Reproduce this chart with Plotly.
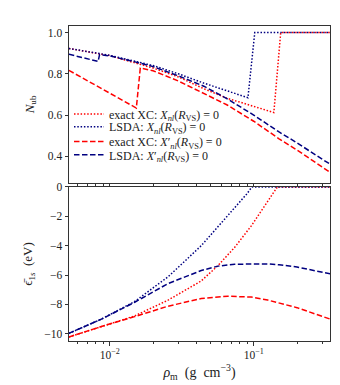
import plotly.graph_objects as go

# --- top panel: N_ub vs rho_m ---
rho_ex_x = [0.0052, 0.01, 0.02, 0.03, 0.045, 0.065, 0.09, 0.138, 0.154, 0.34]
nub_ex_x = [0.923, 0.888, 0.828, 0.785, 0.728, 0.682, 0.652, 0.612, 1.0, 1.0]

rho_lsda_x = [0.0052, 0.01, 0.02, 0.03, 0.045, 0.065, 0.0912, 0.1017, 0.34]
nub_lsda_x = [0.923, 0.89, 0.84, 0.80, 0.755, 0.718, 0.684, 1.0, 1.0]

rho_ex_xp = [0.0052, 0.01, 0.0153, 0.0163, 0.02, 0.03, 0.045, 0.065, 0.1, 0.15, 0.2, 0.3, 0.34]
nub_ex_xp = [0.817, 0.706, 0.634, 0.828, 0.815, 0.765, 0.703, 0.65, 0.57, 0.485, 0.43, 0.347, 0.322]

rho_lsda_xp = [0.0052, 0.0083, 0.0085, 0.01, 0.015, 0.02, 0.03, 0.045, 0.065, 0.1, 0.15, 0.2, 0.3, 0.34]
nub_lsda_xp = [0.895, 0.86, 0.893, 0.887, 0.858, 0.835, 0.79, 0.74, 0.68, 0.6, 0.518, 0.465, 0.385, 0.362]

# --- bottom panel: mean 1s energy (eV) ---
rho_e_ex_x = [0.0052, 0.00875, 0.0149, 0.0254, 0.0432, 0.0565, 0.0738, 0.0962, 0.1256, 0.146, 0.34]
eps_ex_x = [-10.22, -9.5, -8.78, -7.71, -6.4, -5.35, -4.11, -2.65, -0.97, 0.0, 0.0]

rho_e_lsda_x = [0.0052, 0.00875, 0.0149, 0.0254, 0.0432, 0.0596, 0.0738, 0.09, 0.097, 0.34]
eps_lsda_x = [-9.97, -9.0, -7.8, -6.12, -4.0, -2.43, -1.42, -0.45, 0.0, 0.0]

rho_e_ex_xp = [0.0052, 0.00875, 0.0149, 0.0254, 0.0432, 0.066, 0.0962, 0.125, 0.2, 0.34]
eps_ex_xp = [-10.22, -9.5, -8.83, -8.12, -7.6, -7.44, -7.5, -7.7, -8.22, -9.0]

rho_e_lsda_xp = [0.0052, 0.00875, 0.0149, 0.0254, 0.0432, 0.0565, 0.0738, 0.1, 0.1256, 0.15, 0.2, 0.34]
eps_lsda_xp = [-9.97, -9.0, -7.85, -6.58, -5.69, -5.39, -5.26, -5.22, -5.24, -5.3, -5.45, -5.92]

names = [
    "exact XC: <i>X<sub>nl</sub></i>(<i>R</i><sub>VS</sub>) = 0",
    "LSDA: <i>X<sub>nl</sub></i>(<i>R</i><sub>VS</sub>) = 0",
    "exact XC: <i>X</i>′<sub><i>nl</i></sub>(<i>R</i><sub>VS</sub>) = 0",
    "LSDA: <i>X</i>′<sub><i>nl</i></sub>(<i>R</i><sub>VS</sub>) = 0",
]
x_major = [0.01, 0.1]
x_major_text = ["10<sup>−2</sup>", "10<sup>−1</sup>"]
x_minor = [0.006, 0.007, 0.008, 0.009, 0.02, 0.03, 0.04, 0.05, 0.06, 0.07, 0.08, 0.09, 0.2, 0.3]

RED = "#ff0000"
NAVY = "#000080"
DOT = "1.5px,1.8px"
DASH = "5.5px,2.5px"
styles = [(RED, DOT), (NAVY, DOT), (RED, DASH), (NAVY, DASH)]

top = [(rho_ex_x, nub_ex_x), (rho_lsda_x, nub_lsda_x), (rho_ex_xp, nub_ex_xp), (rho_lsda_xp, nub_lsda_xp)]
bot = [(rho_e_ex_x, eps_ex_x), (rho_e_lsda_x, eps_lsda_x), (rho_e_ex_xp, eps_ex_xp), (rho_e_lsda_xp, eps_lsda_xp)]
legend_ids = ["legend", "legend2", "legend3", "legend4"]
legend_y = [0.721, 0.680, 0.633, 0.591]

fig = go.Figure()
for (xs, ys), (c, d), nm, lg in zip(top, styles, names, legend_ids):
    fig.add_trace(go.Scatter(x=xs, y=ys, mode="lines", name=nm, legend=lg,
                             line=dict(color=c, dash=d, width=1.5),
                             xaxis="x", yaxis="y"))
for (xs, ys), (c, d), nm in zip(bot, styles, names):
    fig.add_trace(go.Scatter(x=xs, y=ys, mode="lines", name=nm, showlegend=False,
                             line=dict(color=c, dash=d, width=1.5),
                             xaxis="x2", yaxis="y2"))

FONT = "Liberation Serif"
axcol = "#333333"
common_x = dict(type="log", range=[-2.283, -0.47], showline=True, mirror=True,
                linecolor=axcol, linewidth=1, ticks="outside", ticklen=3.5,
                tickcolor=axcol, tickvals=x_major, ticktext=x_major_text,
                showgrid=False, zeroline=False,
                minor=dict(tickvals=x_minor, ticks="outside", ticklen=2, tickcolor=axcol))
common_y = dict(showline=True, mirror=True, linecolor=axcol, linewidth=1,
                ticks="outside", ticklen=3.5, tickcolor=axcol,
                showgrid=False, zeroline=False)

legends = {}
for lg, ly in zip(legend_ids, legend_y):
    legends[lg] = dict(x=0.0, y=ly, xanchor="left", yanchor="middle",
                       bgcolor="rgba(0,0,0,0)", font=dict(size=12), borderwidth=0)

fig.update_layout(
    width=340, height=385,
    margin=dict(l=61, r=18, t=14, b=52),
    paper_bgcolor="white", plot_bgcolor="white",
    font=dict(family=FONT, size=11.5, color="#222222"),
    xaxis=dict(common_x, domain=[0, 1], anchor="y", showticklabels=False),
    yaxis=dict(common_y, domain=[0.502, 1], range=[0.271, 1.032],
               tickvals=[0.4, 0.6, 0.8, 1.0], tickformat=".1f",
               title=dict(text="<i>N</i><sub>ub</sub>", standoff=10, font=dict(size=13))),
    xaxis2=dict(common_x, domain=[0, 1], anchor="y2", matches="x",
                title=dict(text="<i>ρ</i><sub>m</sub>  (g  cm<sup>−3</sup>)", standoff=6,
                           font=dict(size=14))),
    yaxis2=dict(common_y, domain=[0, 0.489], range=[-10.49, 0],
                tickvals=[0, -2, -4, -6, -8, -10],
                title=dict(text="ϵ̄<sub>1<i>s</i></sub>  (eV)", standoff=8, font=dict(size=13))),
    showlegend=True,
    **legends,
)

fig.write_html("out.html")
